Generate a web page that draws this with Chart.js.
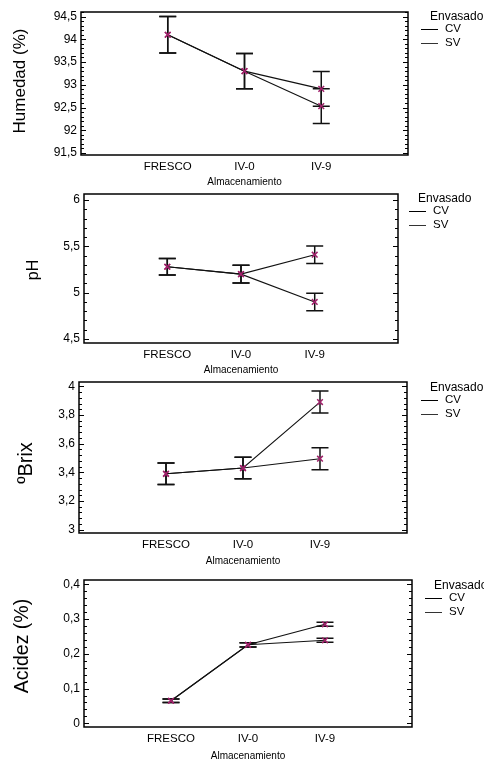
<!DOCTYPE html>
<html>
<head>
<meta charset="utf-8">
<script src="https://cdn.jsdelivr.net/npm/chart.js@4/dist/chart.umd.min.js"></script>
<style>
  html, body { margin: 0; padding: 0; background: #fff; }
  #wrap { position: relative; width: 484px; height: 761px; overflow: hidden; }
  canvas { position: absolute; left: 0; }
</style>
</head>
<body>
<div id="wrap">
  <canvas id="c1" style="top:0px"></canvas>
  <canvas id="c2" style="top:180px"></canvas>
  <canvas id="c3" style="top:368px"></canvas>
  <canvas id="c4" style="top:568px"></canvas>
</div>
<script>
// --- data ---
const categories = ['FRESCO', 'IV-0', 'IV-9'];
const seriesNames = ['CV', 'SV'];

const humedadCV = [94.10, 93.30, 92.91];
const humedadSV = [94.10, 93.30, 92.53];
const humedadErr = [0.40, 0.385, 0.38];
const humedadTicks = [91.5, 92, 92.5, 93, 93.5, 94, 94.5];

const phCV = [5.28, 5.20, 5.41];
const phSV = [5.28, 5.20, 4.90];
const phErr = [0.09, 0.095, 0.095];
const phTicks = [4.5, 5, 5.5, 6];

const brixCV = [3.39, 3.43, 3.89];
const brixSV = [3.39, 3.43, 3.495];
const brixErr = [0.075, 0.075, 0.077];
const brixTicks = [3, 3.2, 3.4, 3.6, 3.8, 4];

const acidezCV = [0.065, 0.226, 0.285];
const acidezSV = [0.065, 0.226, 0.239];
const acidezErr = [0.005, 0.006, 0.0055];
const acidezTicks = [0, 0.1, 0.2, 0.3, 0.4];

const FONT = '"Liberation Sans", Arial, sans-serif';
const MARK = '#a0206a';

// box = plot frame inside each canvas (canvas-relative pixels)
const panels = [
  { id: 'c1', h: 190, yTitle: 'Humedad (%)', titleSize: 17, titleX: 20, titleY: 81,
    cv: humedadCV, sv: humedadSV, err: humedadErr,
    ticks: humedadTicks, minor: 0.1, min: 91.456, max: 94.6,
    box: { left: 81, top: 12, right: 408, bottom: 155 }, xTitleY: 182, legendDx: 22, legendDy: 5 },
  { id: 'c2', h: 198, yTitle: 'pH', titleSize: 16, titleX: 34, titleY: 90,
    cv: phCV, sv: phSV, err: phErr,
    ticks: phTicks, minor: 0.1, min: 4.457, max: 6.065,
    box: { left: 84, top: 14, right: 398, bottom: 163 }, xTitleY: 190, legendDx: 20, legendDy: 5 },
  { id: 'c3', h: 200, yTitle: 'ºBrix', titleSize: 20, titleX: 26, titleY: 95,
    cv: brixCV, sv: brixSV, err: brixErr,
    ticks: brixTicks, minor: 0.04, min: 2.977, max: 4.03,
    box: { left: 79, top: 14, right: 407, bottom: 165 }, xTitleY: 193, legendDx: 23, legendDy: 6 },
  { id: 'c4', h: 193, yTitle: 'Acidez (%)', titleSize: 19.5, titleX: 23, titleY: 78,
    cv: acidezCV, sv: acidezSV, err: acidezErr,
    ticks: acidezTicks, minor: 0.02, min: -0.0105, max: 0.4124,
    box: { left: 84, top: 12, right: 412, bottom: 159 }, xTitleY: 188, legendDx: 22, legendDy: 6 }
];

function fmt(v) {
  return String(+v.toFixed(3)).replace('.', ',');
}

// error bars, frame, inner ticks, y title and legend
const decorPlugin = {
  id: 'decor',
  beforeDatasetsDraw(chart) {
    const ctx = chart.ctx;
    const xs = chart.scales.x, ys = chart.scales.y;
    ctx.save();
    ctx.strokeStyle = '#111';
    ctx.lineWidth = 1.5;
    chart.data.datasets.forEach(ds => {
      ds.data.forEach((p, i) => {
        const e = ds.errors[i];
        const x = xs.getPixelForValue(p.x);
        const y1 = ys.getPixelForValue(p.y - e);
        const y2 = ys.getPixelForValue(p.y + e);
        ctx.beginPath();
        ctx.moveTo(x, y1); ctx.lineTo(x, y2);
        ctx.moveTo(x - 8.5, y1); ctx.lineTo(x + 8.5, y1);
        ctx.moveTo(x - 8.5, y2); ctx.lineTo(x + 8.5, y2);
        ctx.stroke();
      });
    });
    ctx.restore();
  },
  afterDraw(chart) {
    const ctx = chart.ctx;
    const a = chart.chartArea;
    const ys = chart.scales.y;
    const o = chart.options.plugins.decor;
    ctx.save();
    ctx.strokeStyle = '#000';
    ctx.lineWidth = 1.5;
    ctx.strokeRect(a.left, a.top, a.right - a.left, a.bottom - a.top);
    // inward ticks on left and right edges
    ctx.lineWidth = 1;
    const first = Math.ceil(ys.min / o.minor - 1e-6);
    const last = Math.floor(ys.max / o.minor + 1e-6);
    for (let k = first; k <= last; k++) {
      const v = k * o.minor;
      const major = o.ticks.some(t => Math.abs(t - v) < o.minor / 10);
      const len = major ? 5 : 3;
      const y = Math.round(ys.getPixelForValue(v)) + 0.5;
      ctx.beginPath();
      ctx.moveTo(a.left, y); ctx.lineTo(a.left + len, y);
      ctx.moveTo(a.right, y); ctx.lineTo(a.right - len, y);
      ctx.stroke();
    }
    // y title
    ctx.fillStyle = '#000';
    ctx.save();
    ctx.translate(o.titleX, o.titleY);
    ctx.rotate(-Math.PI / 2);
    ctx.font = o.titleSize + 'px ' + FONT;
    ctx.textAlign = 'center';
    ctx.textBaseline = 'middle';
    ctx.fillText(o.title, 0, 0);
    ctx.restore();
    // legend
    const lx = a.right + o.legendDx;
    const ly = a.top + o.legendDy;
    ctx.textBaseline = 'middle';
    ctx.textAlign = 'left';
    ctx.font = '12px ' + FONT;
    ctx.fillText('Envasado', lx, ly);
    ctx.font = '11.5px ' + FONT;
    chart.data.datasets.forEach((ds, i) => {
      const yy = ly + 12 + i * 14;
      ctx.strokeStyle = i === 0 ? '#000' : '#333';
      ctx.beginPath();
      ctx.moveTo(lx - 9, yy + 0.5); ctx.lineTo(lx + 8, yy + 0.5);
      ctx.stroke();
      ctx.fillText(ds.label, lx + 15, yy);
    });
    ctx.restore();
  }
};

panels.forEach(p => {
  const canvas = document.getElementById(p.id);
  canvas.width = 484;
  canvas.height = p.h;
  canvas.style.width = '484px';
  canvas.style.height = p.h + 'px';
  const mk = (vals, label) => ({
    label: label,
    data: vals.map((v, i) => ({ x: i, y: v })),
    errors: p.err,
    borderColor: '#111',
    borderWidth: 1.1,
    pointStyle: 'crossRot',
    pointRadius: 4,
    pointBorderColor: MARK,
    pointBorderWidth: 1.5,
    pointBackgroundColor: MARK,
    tension: 0,
    fill: false
  });
  new Chart(canvas, {
    type: 'line',
    data: { datasets: [mk(p.cv, seriesNames[0]), mk(p.sv, seriesNames[1])] },
    options: {
      responsive: false,
      animation: false,
      layout: { padding: { left: 0, top: p.box.top, right: 484 - p.box.right, bottom: 0 } },
      plugins: {
        legend: { display: false },
        tooltip: { enabled: false },
        decor: {
          ticks: p.ticks, minor: p.minor, legendDx: p.legendDx, legendDy: p.legendDy,
          title: p.yTitle, titleSize: p.titleSize, titleX: p.titleX, titleY: p.titleY
        }
      },
      scales: {
        x: {
          type: 'linear',
          min: -1.13, max: 3.13,
          grid: { display: false, drawTicks: false },
          border: { display: false },
          afterBuildTicks: s => { s.ticks = categories.map((c, i) => ({ value: i })); },
          afterFit: s => { s.height = p.h - p.box.bottom; },
          ticks: {
            autoSkip: false, maxRotation: 0, padding: 5,
            color: '#000', font: { family: FONT, size: 11.5 },
            callback: v => categories[v]
          },
          title: {
            display: true, text: 'Almacenamiento', color: '#000',
            font: { family: FONT, size: 10 },
            padding: { top: 0, bottom: p.h - p.xTitleY - 6 }
          }
        },
        y: {
          min: p.min, max: p.max,
          grid: { display: false, drawTicks: false },
          border: { display: false },
          afterBuildTicks: s => { s.ticks = p.ticks.map(v => ({ value: v })); },
          afterFit: s => { s.width = p.box.left; },
          ticks: {
            padding: 4, color: '#000', font: { family: FONT, size: 12 },
            callback: v => fmt(v)
          }
        }
      }
    },
    plugins: [decorPlugin]
  });
});
</script>
</body>
</html>
